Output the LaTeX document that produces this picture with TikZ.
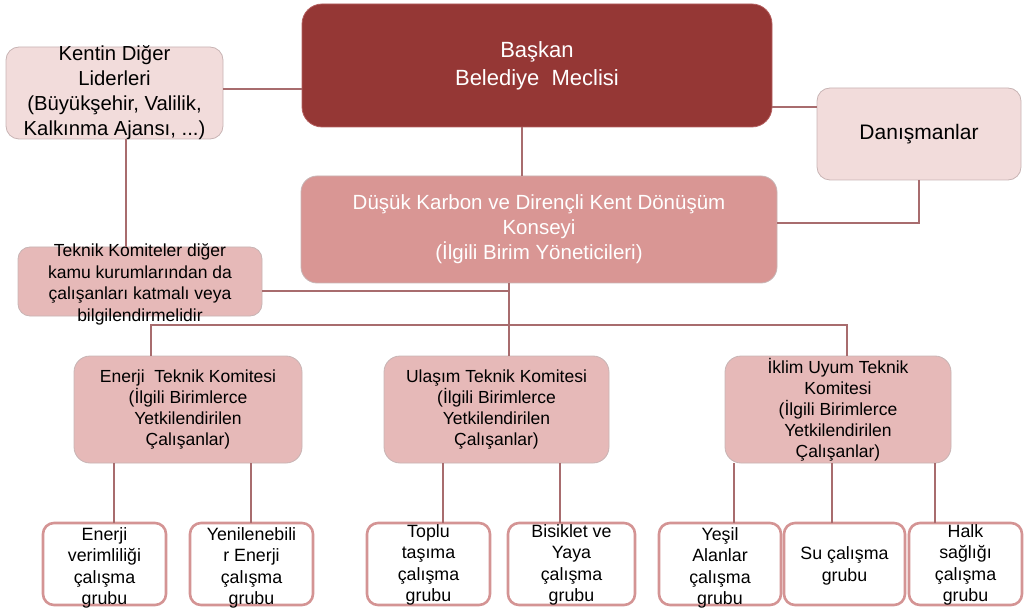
\documentclass[tikz,border=0pt]{standalone}
\usepackage{fontspec}
\setmainfont{Liberation Sans}
\definecolor{dred}{RGB}{149,55,53}
\definecolor{dredb}{RGB}{180,95,95}
\definecolor{lpink}{RGB}{242,220,219}
\definecolor{mpink}{RGB}{217,150,148}
\definecolor{cpink}{RGB}{230,185,184}
\definecolor{conn}{RGB}{168,108,110}
\definecolor{bord}{RGB}{200,180,180}
\definecolor{kidb}{RGB}{212,148,148}
\begin{document}
\begin{tikzpicture}[x=1pt,y=-1pt,
  box/.style={rectangle, inner sep=0pt, outer sep=0pt},
  bigbox/.style={box, fill=dred, draw=dredb, line width=0.8pt, rounded corners=20pt},
  lightbox/.style={box, fill=lpink, draw=bord, line width=0.8pt, rounded corners=13pt},
  konbox/.style={box, fill=mpink, draw=bord, line width=0.8pt, rounded corners=16pt},
  combox/.style={box, fill=cpink, draw=bord, line width=0.8pt, rounded corners=16pt},
  kidbox/.style={box, fill=white, draw=kidb, line width=2.6pt, rounded corners=11pt,
    minimum height=82pt},
  txt/.style={align=center, inner sep=0pt},
  ctxt/.style={txt, font=\fontsize{17.5}{21}\selectfont},
  ktxt/.style={txt, font=\fontsize{17.8}{21.3}\selectfont},
  link/.style={draw=conn, line width=1.6pt}]
\useasboundingbox (0,0) rectangle (1024,609);

% boxes
\node[bigbox, minimum width=470pt, minimum height=123pt] (baskan) at (537,65.5) {};
\node[lightbox, minimum width=217pt, minimum height=92pt] (kentin) at (114.5,93) {};
\node[lightbox, minimum width=204pt, minimum height=92pt] (danis) at (919,134) {};
\node[konbox, minimum width=476pt, minimum height=107pt] (konsey) at (539,229.5) {};
\node[combox, minimum width=244pt, minimum height=69pt, rounded corners=12pt] (teknik) at (140,281.5) {};
\node[combox, minimum width=228pt, minimum height=107pt] (enerji) at (188,409.5) {};
\node[combox, minimum width=225pt, minimum height=107pt] (ulasim) at (496.5,409.5) {};
\node[combox, minimum width=226pt, minimum height=107pt] (iklim) at (838,409.5) {};

\node[kidbox, minimum width=123pt] (c1) at (104.5,564) {};
\node[kidbox, minimum width=123pt] (c2) at (251.5,564) {};
\node[kidbox, minimum width=123pt] (c3) at (428.5,564) {};
\node[kidbox, minimum width=127pt] (c4) at (571.5,564) {};
\node[kidbox, minimum width=122pt] (c5) at (720,564) {};
\node[kidbox, minimum width=121pt] (c6) at (844.5,564) {};
\node[kidbox, minimum width=113pt] (c7) at (965.5,564) {};

% texts
\node[txt, text=white, font=\fontsize{22}{28}\selectfont] (baskanT) at (baskan) {Başkan\\Belediye~~Meclisi};
\node[txt, font=\fontsize{20.3}{25}\selectfont] (kentinT) at (kentin) {Kentin Diğer\\Liderleri\\(Büyükşehir, Valilik,\\Kalkınma Ajansı, ...)};
\node[txt, font=\fontsize{21}{25}\selectfont] (danisT) at (danis) {Danışmanlar};
\node[txt, text=white, font=\fontsize{20.5}{25}\selectfont] (konseyT) at (konsey) {Düşük Karbon ve Dirençli Kent Dönüşüm\\Konseyi\\(İlgili Birim Yöneticileri)};
\node[txt, font=\fontsize{17.5}{21.7}\selectfont] (teknikT) at ([yshift=-3pt]teknik.center) {Teknik Komiteler diğer\\kamu kurumlarından da\\çalışanları katmalı veya\\bilgilendirmelidir};
\node[ctxt] (enerjiT) at (enerji) {Enerji~~Teknik Komitesi\\(İlgili Birimlerce\\Yetkilendirilen\\Çalışanlar)};
\node[ctxt] (ulasimT) at (ulasim) {Ulaşım Teknik Komitesi\\(İlgili Birimlerce\\Yetkilendirilen\\Çalışanlar)};
\node[ctxt] (iklimT) at (iklim) {İklim Uyum Teknik\\Komitesi\\(İlgili Birimlerce\\Yetkilendirilen\\Çalışanlar)};

\node[ktxt] (c1T) at ([yshift=-4pt]c1.center) {Enerji\\verimliliği\\çalışma\\grubu};
\node[ktxt] (c2T) at ([yshift=-4pt]c2.center) {Yenilenebili\\r Enerji\\çalışma\\grubu};
\node[ktxt] (c3T) at ([yshift=-1pt]c3.center) {Toplu\\taşıma\\çalışma\\grubu};
\node[ktxt] (c4T) at ([yshift=-1pt]c4.center) {Bisiklet ve\\Yaya\\çalışma\\grubu};
\node[ktxt] (c5T) at ([yshift=-4pt]c5.center) {Yeşil\\Alanlar\\çalışma\\grubu};
\node[ktxt] (c6T) at ([yshift=-2pt]c6.center) {Su çalışma\\grubu};
\node[ktxt] (c7T) at ([yshift=-1pt]c7.center) {Halk\\sağlığı\\çalışma\\grubu};

% connectors
\coordinate (j1) at (509,291);
\coordinate (bus) at (509,325);
\draw[link] (kentin.east |- 0,89) -- (baskan.west |- 0,89);
\draw[link] (baskan.east |- 0,107) -- (danis.west |- 0,107);
\draw[link] (danis.south) |- (konsey.east |- 0,223);
\draw[link] (baskan.south -| 522,0) -- (konsey.north -| 522,0);
\draw[link] (kentin.south -| 126,0) -- (teknik.north -| 126,0);
\draw[link] (teknik.east |- j1) -- (j1);
\draw[link] (konsey.south -| bus) -- (ulasim.north -| bus);
\draw[link] (enerji.north -| 151,0) |- (bus) -| (iklim.north -| 847,0);

\draw[link] (enerji.south -| 114,0) -- (c1.north -| 114,0);
\draw[link] (enerji.south -| 251,0) -- (c2.north -| 251,0);
\draw[link] (ulasim.south -| 443,0) -- (c3.north -| 443,0);
\draw[link] (ulasim.south -| 560,0) -- (c4.north -| 560,0);
\draw[link] (iklim.south -| 734,0) -- (c5.north -| 734,0);
\draw[link] (iklim.south -| 832,0) -- (c6.north -| 832,0);
\draw[link] (iklim.south -| 935,0) -- (c7.north -| 935,0);
\end{tikzpicture}
\end{document}
